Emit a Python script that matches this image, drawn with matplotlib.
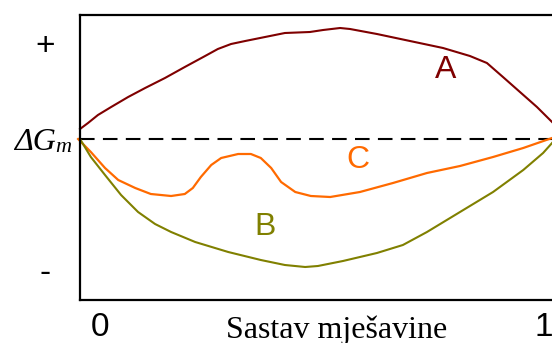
import matplotlib.pyplot as plt

# curve A (positive deviation)
a_x = [0, 0.017, 0.038, 0.066, 0.102, 0.138, 0.180, 0.222, 0.265, 0.292,
       0.320, 0.350, 0.392, 0.434, 0.487, 0.515, 0.551, 0.572, 0.629, 0.699,
       0.769, 0.826, 0.862, 0.896, 0.932, 0.968, 1.0]
a_y = [0.10, 0.16, 0.24, 0.32, 0.42, 0.51, 0.61, 0.72, 0.83, 0.90,
       0.95, 0.98, 1.02, 1.06, 1.07, 1.09, 1.11, 1.10, 1.05, 0.98,
       0.91, 0.83, 0.76, 0.62, 0.47, 0.32, 0.17]

# curve C (with bump)
c_x = [-0.004, 0.023, 0.053, 0.081, 0.117, 0.150, 0.193, 0.222, 0.239, 0.256,
       0.278, 0.299, 0.335, 0.362, 0.383, 0.405, 0.426, 0.456, 0.489, 0.530,
       0.593, 0.663, 0.735, 0.805, 0.875, 0.939, 1.0]
c_y = [0.0, -0.13, -0.29, -0.41, -0.49, -0.55, -0.57, -0.55, -0.49, -0.38,
       -0.26, -0.19, -0.15, -0.15, -0.19, -0.29, -0.43, -0.53, -0.57, -0.58,
       -0.53, -0.44, -0.34, -0.27, -0.18, -0.09, 0.01]

# curve B (negative deviation)
b_x = [0, 0.023, 0.053, 0.087, 0.123, 0.159, 0.193, 0.244, 0.314, 0.383,
       0.434, 0.477, 0.504, 0.557, 0.629, 0.684, 0.735, 0.805, 0.875, 0.939,
       0.981, 1.0]
b_y = [0.0, -0.18, -0.36, -0.56, -0.73, -0.85, -0.93, -1.03, -1.13, -1.21,
       -1.26, -1.28, -1.27, -1.22, -1.14, -1.06, -0.93, -0.73, -0.53, -0.31,
       -0.14, -0.04]

labels = {"A": (0.775, 0.69), "C": (0.589, -0.21), "B": (0.392, -0.88)}
COL = {"A": "#7f0000", "B": "#808000", "C": "#ff6a00"}

fig = plt.figure(figsize=(5.52, 3.43), dpi=100)
ax = fig.add_axes([80 / 552, 1 - 300 / 343, 473 / 552, 285 / 343])
ax.set_xlim(0, 1.002)
ax.set_ylim(-1.61, 1.24)
ax.set_xticks([]); ax.set_yticks([])
for s in ax.spines.values():
    s.set_linewidth(1.6)

ax.axhline(0, color="black", lw=1.5, dashes=(7, 4), zorder=1)
ax.plot(a_x, a_y, color=COL["A"], lw=1.5, clip_on=False)
ax.plot(c_x, c_y, color=COL["C"], lw=1.6, clip_on=False)
ax.plot(b_x, b_y, color=COL["B"], lw=1.5, clip_on=False)
for k, (x, y) in labels.items():
    ax.text(x, y, k, color=COL[k], fontsize=23, ha="center", va="center",
            family="Liberation Sans")

def ft(px, py, s, **kw):
    fig.text(px / 552, 1 - py / 343, s, va="center", **kw)

ft(45, 47, "+", ha="center", fontsize=24, family="Liberation Sans")
ft(45, 274, "-", ha="center", fontsize=24, family="Liberation Sans")
ft(56, 142, "ΔG", ha="right", fontsize=23, family="Liberation Serif", style="italic")
ft(55, 148, "m", ha="left", fontsize=16, family="Liberation Serif", style="italic")
ft(100, 328, "0", ha="center", fontsize=24, family="Liberation Sans")
ft(544, 328, "1", ha="center", fontsize=24, family="Liberation Sans")
ft(337, 330, "Sastav mješavine", ha="center", fontsize=23, family="Liberation Serif")

fig.savefig("out.png", dpi=100)
